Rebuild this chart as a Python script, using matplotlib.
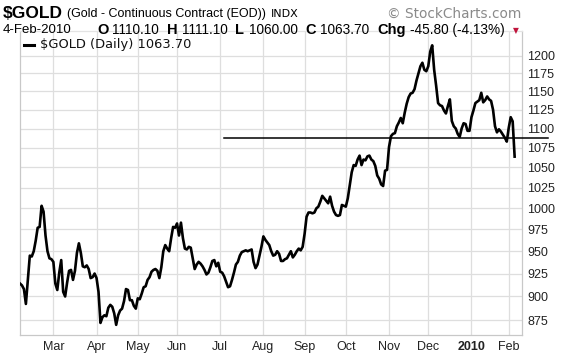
import matplotlib
matplotlib.use("Agg")
import matplotlib.pyplot as plt
import numpy as np
import pandas as pd
from matplotlib.ticker import FixedLocator, NullLocator, FixedFormatter

# ---- data (daily closes) ----
start_date = "2009-02-04"
end_date = "2010-02-04"
holidays = ["2009-02-16", "2009-04-10", "2009-05-25", "2009-07-03", "2009-09-07",
            "2009-11-26", "2009-12-25", "2010-01-01", "2010-01-18"]

closes = [
    914, 912, 908, 892, 918, 945, 944, 950, 962, 977,
    978, 1003, 996, 968, 950, 942, 941, 938, 914, 907,
    926, 940, 905, 900, 915, 928, 929, 918, 928, 948,
    959, 948, 933, 932, 934, 930, 920, 921, 925, 920,
    905, 872, 878, 880, 879, 888, 891, 889, 882, 870,
    880, 885, 887, 895, 908, 907, 896, 896, 890, 887,
    898, 897, 903, 910, 911, 918, 921, 927, 929, 930,
    928, 920, 932, 950, 957, 953, 950, 965, 978, 977,
    982, 968, 983, 965, 953, 952, 955, 954, 942, 930,
    935, 938, 936, 933, 929, 924, 926, 932, 939, 940,
    933, 937, 927, 926, 922, 916, 910, 911, 918, 926,
    935, 938, 945, 949, 950, 951, 950, 951, 952, 938,
    931, 935, 945, 955, 967, 963, 960, 957, 950, 945,
    946, 950, 947, 939, 939, 941, 942, 946, 950, 943,
    946, 950, 953, 951, 955, 970, 990, 995, 995, 994,
    995, 1000, 1002, 1008, 1015, 1012, 1009, 1006, 1014, 1003,
    996, 992, 991, 992, 1004, 1003, 1002, 1012, 1028, 1044,
    1053, 1052, 1060, 1065, 1053, 1060, 1059, 1064, 1065, 1060,
    1058, 1052, 1040, 1036, 1029, 1027, 1046, 1047, 1076, 1090,
    1093, 1094, 1103, 1108, 1114, 1107, 1121, 1133, 1142, 1147,
    1148, 1153, 1165, 1175, 1185, 1190, 1180, 1178, 1185, 1206,
    1215, 1180, 1158, 1134, 1131, 1130, 1124, 1120, 1130, 1139,
    1110, 1103, 1100, 1093, 1089, 1100, 1107, 1106, 1097, 1097,
    1115, 1124, 1134, 1136, 1138, 1148, 1135, 1138, 1143, 1139,
    1137, 1125, 1103, 1095, 1099, 1096, 1092, 1088, 1083, 1101,
    1115, 1109.5, 1063.7,
]

y_ticks = [875, 900, 925, 950, 975, 1000, 1025, 1050, 1075, 1100, 1125, 1150, 1175, 1200]
support_level = 1088
support_start = "2009-07-06"
support_extend_days = 17

ohlc_labels = ["O", "H", "L", "C", "Chg"]
ohlc_values = ["1110.10", "1111.10", "1060.00", "1063.70", "-45.80 (-4.13%)"]

# ---- build trading calendar ----
dates = pd.bdate_range(start_date, end_date)
dates = dates[~dates.isin(pd.to_datetime(holidays))]
n = min(len(dates), len(closes))
dates = dates[:n]
vals = np.array(closes[:n], dtype=float)
idx = np.arange(n)

month_key = dates.year * 12 + dates.month
first_of_month = [i for i in range(1, n) if month_key[i] != month_key[i - 1]]
month_labels = [("2010" if dates[i].month == 1 else dates[i].strftime("%b")) for i in first_of_month]

W, H = 576, 356
fig = plt.figure(figsize=(W / 100, H / 100), dpi=100)
fig.patch.set_facecolor("white")
ax = fig.add_axes([20 / W, 21 / H, 501.7 / W, 304 / H])

ax.plot(idx, vals, color="black", lw=1.9, solid_joinstyle="round", zorder=3)

s0 = int(np.where(dates == pd.Timestamp(support_start))[0][0])
ax.plot([s0, n - 1 + support_extend_days], [support_level, support_level],
        color="black", lw=1.1, clip_on=False, zorder=4)

ax.set_yscale("log")
ax.set_ylim(859.5, 1236)
ax.set_xlim(0, 255.6)
ax.yaxis.set_major_locator(FixedLocator(y_ticks))
ax.yaxis.set_major_formatter(FixedFormatter([str(t) for t in y_ticks]))
ax.yaxis.set_minor_locator(NullLocator())
ax.yaxis.tick_right()
ax.xaxis.set_major_locator(FixedLocator(first_of_month))
ax.xaxis.set_major_formatter(FixedFormatter(month_labels))
ax.xaxis.set_minor_locator(NullLocator())

ax.grid(True, color="#dedede", lw=0.9, zorder=0)
ax.tick_params(axis="both", length=0, labelsize=9, colors="#222222")
ax.tick_params(axis="y", pad=4)
ax.tick_params(axis="x", pad=4)
for lab in ax.get_yticklabels() + ax.get_xticklabels():
    lab.set_fontfamily("Liberation Sans")
for lab in ax.get_xticklabels():
    if lab.get_text() == "2010":
        lab.set_fontweight("bold")
for sp in ax.spines.values():
    sp.set_color("#c8c8c8")
    sp.set_linewidth(0.9)
ax.spines["top"].set_color("#e4e4e4")

# legend strip
ax.plot([0.007, 0.027], [0.955, 0.955], transform=ax.transAxes, color="black", lw=2.2, zorder=5)
ax.text(0.04, 0.955, "$GOLD (Daily) 1063.70", transform=ax.transAxes, fontsize=9.4,
        family="DejaVu Sans", va="center", ha="left", color="#111111", zorder=5)

renderer = fig.canvas.get_renderer()

def ft(x, y, s, **kw):
    t = fig.text(x / W, 1 - y / H, s, va="center", ha=kw.pop("ha", "left"), **kw)
    bb = t.get_window_extent(renderer=renderer)
    return bb.x1

x = ft(3, 13, "$GOLD", fontsize=12.5, fontweight="bold", family="Liberation Sans")
x = ft(x + 4, 13.5, "(Gold - Continuous Contract (EOD))", fontsize=9, family="Liberation Sans")
ft(x + 5, 14, "INDX", fontsize=8, family="DejaVu Sans")
ft(521, 13.5, "\u00a9 StockCharts.com", fontsize=9.8, family="DejaVu Sans", color="#8a8a8a", ha="right")

y2 = 30
ft(3, y2, "4-Feb-2010", fontsize=9.5, family="Liberation Sans")
x = 97
for lab, val in zip(ohlc_labels, ohlc_values):
    x = ft(x, y2, lab, fontsize=10.5, fontweight="bold", family="Liberation Sans")
    x = ft(x + 4, y2, val, fontsize=9.8, family="Liberation Sans")
    x += 8
ft(x + 1, y2 + 0.5, "\u25bc", fontsize=5.5, color="#c0143c", family="DejaVu Sans")

fig.savefig("out.png", dpi=100, facecolor="white")
